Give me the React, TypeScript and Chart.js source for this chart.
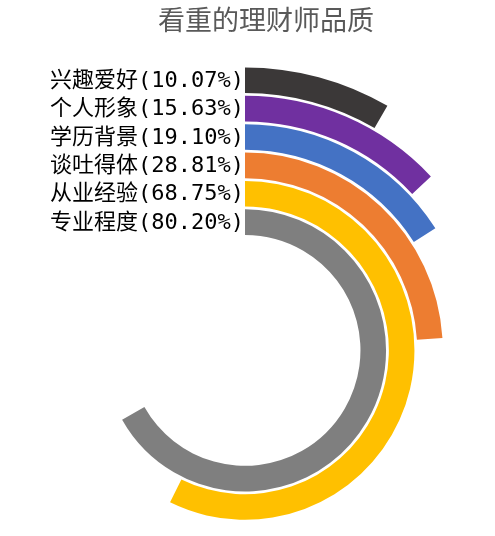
import React, { useEffect, useRef } from "react";
import { Chart, registerables } from "chart.js";

Chart.register(...registerables);

const title = "看重的理财师品质";
// outermost ring first
const categories = ["兴趣爱好", "个人形象", "学历背景", "谈吐得体", "从业经验", "专业程度"];
const values = [10.07, 15.63, 19.1, 28.81, 68.75, 80.2];
const colors = ["#3B3838", "#7030A0", "#4472C4", "#ED7D31", "#FFC000", "#7F7F7F"];
const scaleMax = 120;

const labelFont = '22px "DejaVu Sans Mono", "Noto Sans CJK SC", sans-serif';

const ringLabels = {
    id: "ringLabels",
    afterDatasetsDraw(chart) {
        const ctx = chart.ctx;
        ctx.save();
        // title
        ctx.font = '27px "Noto Sans CJK SC", sans-serif';
        ctx.fillStyle = "#595959";
        ctx.textAlign = "center";
        ctx.textBaseline = "middle";
        ctx.fillText(title, 266, 20);

        ctx.font = labelFont;
        ctx.fillStyle = "#000000";
        ctx.textAlign = "right";
        chart.data.datasets.forEach((ds, i) => {
            if (ds.spacer) return;
            const arc: any = chart.getDatasetMeta(i).data[0];
            if (!arc) return;
            const mid = (arc.innerRadius + arc.outerRadius) / 2;
            ctx.fillText(ds.label + "(" + ds.data[0].toFixed(2) + "%)", arc.x - 1, arc.y - mid + 1);
        });
        ctx.restore();
    },
};

export default function App() {
    const canvasRef = useRef<HTMLCanvasElement>(null);

    useEffect(() => {
        document.body.style.margin = "0";
        const datasets: any[] = [];
        categories.forEach((c, i) => {
            if (i > 0) {
                datasets.push({
                    spacer: true,
                    data: [1],
                    backgroundColor: ["rgba(0,0,0,0)"],
                    borderWidth: 0,
                    weight: 2.8,
                });
            }
            datasets.push({
                label: c,
                data: [values[i], scaleMax - values[i]],
                backgroundColor: [colors[i], "rgba(0,0,0,0)"],
                borderWidth: 0,
                weight: 25.6,
            });
        });

        let chart;
        const context = canvasRef.current ? canvasRef.current.getContext("2d") : null;
        if (context) {
            chart = new Chart(context, {
                type: "doughnut",
                data: { labels: ["value", "rest"], datasets },
                options: {
                    responsive: false,
                    animation: false,
                    radius: 283,
                    cutout: "40.8%",
                    layout: { padding: { top: 164.8, right: 5, left: 0, bottom: 0 } },
                    plugins: {
                        legend: { display: false },
                        tooltip: { enabled: false },
                    },
                },
                plugins: [ringLabels],
            });
        }
        return () => {
            if (chart) chart.destroy();
        };
    });

    return (
        <div style={{ width: 495, height: 536, position: "relative", overflow: "hidden", background: "#ffffff" }}>
            <canvas ref={canvasRef} width={495} height={536} style={{ display: "block" }}></canvas>
        </div>
    );
}
